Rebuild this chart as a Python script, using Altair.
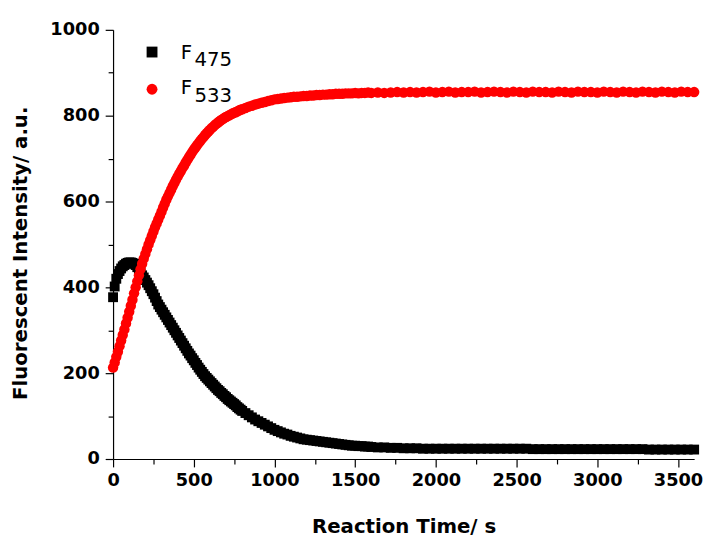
import altair as alt
import pandas as pd

# time grid (s)
t_a = list(range(0, 801, 10))        # 0 .. 800, step 10   (81)
t_b = list(range(820, 1601, 20))     # 820 .. 1600, step 20 (40)
t_c = list(range(1640, 3601, 40))    # 1640 .. 3600, step 40 (50)

# F533 (red)
red_a = [213, 225, 238, 250, 263, 276, 289, 302, 316, 329,
         343, 357, 371, 386, 400, 414, 428, 442, 455, 467,
         478, 489, 500, 510, 520, 530, 540, 549, 558, 567,
         576, 586, 595, 604, 612, 620, 628, 636, 643, 651,
         658, 665, 671, 678, 684, 691, 697, 703, 709, 715,
         721, 726, 731, 736, 741, 746, 750, 755, 759, 763,
         767, 771, 774, 778, 781, 784, 787, 790, 792, 795,
         797, 799, 801, 803, 805, 807, 808, 810, 812, 814,
         815]
red_b = [818, 821, 823, 826, 828, 830, 832, 834, 836, 838,
         839, 840, 841, 842, 843, 844, 844, 845, 846, 846,
         847, 847, 848, 848, 849, 849, 850, 850, 851, 851,
         851, 852, 852, 852, 853, 852, 853, 853, 854, 853]
red_c = [854, 853, 854, 855, 854, 855, 854, 855, 856, 854,
         855, 856, 854, 855, 855, 856, 854, 855, 856, 855,
         854, 856, 855, 854, 856, 855, 855, 854, 856, 855,
         854, 856, 855, 855, 854, 856, 855, 854, 856, 855,
         854, 856, 855, 854, 856, 855, 854, 856, 855, 855]

# F475 (black)
black_a = [377, 402, 420, 431, 438, 444, 449, 452, 455, 457,
           458, 458, 457, 455, 452, 447, 442, 435, 428, 423,
           417, 411, 405, 398, 391, 384, 376, 368, 360, 354,
           348, 342, 336, 330, 324, 318, 312, 306, 300, 294,
           288, 282, 276, 270, 264, 258, 252, 246, 241, 235,
           230, 224, 219, 213, 208, 203, 198, 193, 189, 185,
           181, 177, 173, 169, 165, 161, 158, 154, 151, 147,
           144, 140, 137, 134, 131, 128, 125, 121, 118, 115,
           112]
black_b = [107, 102, 97, 92, 88, 84, 80, 76, 72, 68,
           65, 62, 59, 57, 54, 52, 50, 48, 46, 45,
           44, 43, 42, 41, 40, 39, 38, 37, 36, 35,
           34, 33, 32, 31, 31, 30, 30, 29, 29, 28]
black_c = [27, 27, 26, 26, 25, 25, 25, 24, 24, 24,
           24, 24, 24, 24, 24, 24, 24, 24, 24, 24,
           24, 24, 24, 24, 23, 23, 23, 23, 23, 23,
           23, 23, 23, 23, 23, 23, 23, 23, 23, 23,
           23, 23, 22, 22, 22, 22, 22, 22, 22, 22]

x_ticks = list(range(0, 3501, 250))
y_ticks = list(range(0, 1001, 100))

times = t_a + t_b + t_c
df_black = pd.DataFrame({"t": times, "v": black_a + black_b + black_c})
df_red = pd.DataFrame({"t": times, "v": red_a + red_b + red_c})

FONT = "DejaVu Sans"
xs = alt.Scale(domain=[0, 3600], nice=False)
ys = alt.Scale(domain=[0, 1000], nice=False)

common_axis = dict(
    grid=False, domainColor="black", tickColor="black",
    domainWidth=1.2, tickWidth=1.2, format="d",
    labelFont=FONT, labelFontSize=18, labelFontWeight="bold", labelColor="black",
    labelOverlap=False, labelFlush=False,
    titleFont=FONT, titleFontSize=20, titleFontWeight="bold", titleColor="black",
)

x_axis = alt.Axis(
    values=x_ticks,
    labelExpr="datum.value % 500 === 0 ? datum.label : ''",
    tickSize={"condition": {"test": "datum.value % 500 === 0", "value": 8}, "value": 5},
    labelPadding=5,
    title="Reaction Time/ s",
    titleBaseline="alphabetic",
    titleY=74,
    **common_axis,
)
y_axis = alt.Axis(
    values=y_ticks,
    labelExpr="datum.value % 200 === 0 ? datum.label : ''",
    tickSize={"condition": {"test": "datum.value % 200 === 0", "value": 8}, "value": 5},
    labelPadding=6,
    title="Fluorescent Intensity/ a.u.",
    titleX=-84,
    titleY=226,
    **common_axis,
)

black = alt.Chart(df_black).mark_point(
    shape="square", filled=True, size=100, color="#000000", opacity=1
).encode(
    x=alt.X("t:Q", scale=xs, axis=x_axis),
    y=alt.Y("v:Q", scale=ys, axis=y_axis),
)
red = alt.Chart(df_red).mark_point(
    shape="circle", filled=True, size=112, color="#FF0000", opacity=1
).encode(
    x=alt.X("t:Q", scale=xs, axis=x_axis),
    y=alt.Y("v:Q", scale=ys, axis=y_axis),
)

one = pd.DataFrame({"k": [0]})
leg_sq = alt.Chart(one).mark_point(shape="square", filled=True, size=121, color="#000000", opacity=1).encode(
    x=alt.value(39.5), y=alt.value(22.5))
leg_ci = alt.Chart(one).mark_point(shape="circle", filled=True, size=121, color="#FF0000", opacity=1).encode(
    x=alt.value(39.5), y=alt.value(60.2))

def txt(s, x, y):
    return alt.Chart(one).mark_text(
        text=s, font=FONT, fontSize=20, align="left", baseline="alphabetic", color="black"
    ).encode(x=alt.value(x), y=alt.value(y))

chart = alt.layer(
    black, red, leg_sq, leg_ci,
    txt("F", 68.5, 29.2), txt("475", 82.5, 36.8),
    txt("F", 68.5, 65.2), txt("533", 82.5, 73.5),
).properties(
    width=589, height=435,
    autosize=alt.AutoSizeParams(type="none"),
    padding={"left": 106.5, "top": 18.5, "right": 12, "bottom": 82},
).configure_view(stroke=None)

chart.save("out.html", embed_options={"renderer": "svg", "actions": False})
